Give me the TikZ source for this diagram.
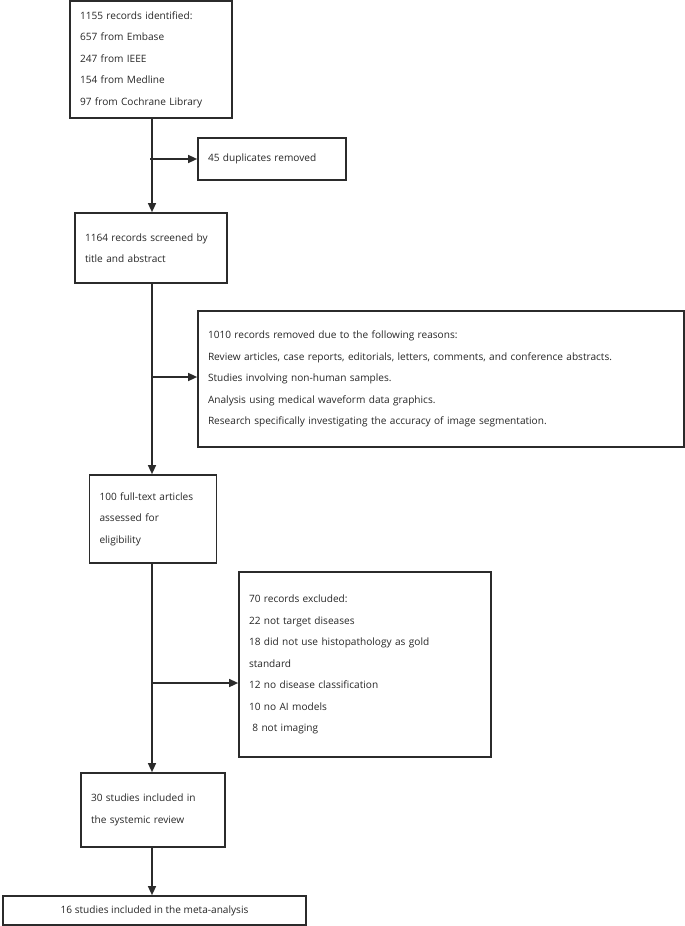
\documentclass[tikz,border=0pt]{standalone}
\usepackage{fontspec}
\setmainfont{Open Sans}
\usepackage{tikz}
\usetikzlibrary{positioning}
\usetikzlibrary{%
  calc,%
  arrows.meta%
}
\definecolor{linegray}{HTML}{2B2B2B}
\tikzset{
  flowbox/.style={draw=linegray, line width=1.7pt, align=left, inner xsep=10pt, inner ysep=0pt,
    font=\fontsize{10.1}{21.5}\selectfont, text=black!85},
}
\newcommand{\fbx}[3]{node[flowbox, minimum width=#1pt, minimum height=#2pt, text width=#3pt]}

\begin{document}
\begin{tikzpicture}[x=1pt, y=-1pt, >={Triangle[length=9pt,width=8pt]}, line width=1.4pt, color=linegray]
\useasboundingbox (0,0) rectangle (685,926);

\path (151,59.5) \fbx{162}{117}{142} (ident) {1155 records identified:\\657 from Embase\\247 from IEEE\\154 from Medline\\97 from Cochrane Library};
\path (272,159) \fbx{148}{42}{128} (dupl) {45 duplicates removed};
\path (151,248) \fbx{152}{70}{132} (screen) {1164 records screened by\\title and abstract};
\path (441,379) \fbx{486}{136}{466} (remov) {1010 records removed due to the following reasons:\\Review articles, case reports, editorials, letters, comments, and conference abstracts.\\Studies involving non-human samples.\\Analysis using medical waveform data graphics.\\Research specifically investigating the accuracy of image segmentation.};
\path (153,519) \fbx{127}{88}{107} (fulltext) {100 full-text articles\\assessed for\\eligibility};
\path (365,664.5) \fbx{252}{185}{232} (excl) {70 records excluded:\\22 not target diseases\\18 did not use histopathology as gold\\standard\\12 no disease classification\\10 no AI models\\\ 8 not imaging};
\path (153,810) \fbx{144}{74}{124} (incl) {30 studies included in\\the systemic review};
\path (154.5,910.5) node[flowbox, minimum width=303pt, minimum height=29pt, align=center] (meta) {16 studies included in the meta-analysis};

% branch points on the trunk
\coordinate (j1) at (150,159);
\coordinate (j2) at (152,377);
\coordinate (j3) at (153,683);

\draw
	(ident.south -| j2) edge[->] (screen.north -| j2)
	(screen.south -| j2) edge[->] (fulltext.north -| j2)
	(fulltext.south -| j2) edge[->] (incl.north -| j2)
	(incl.south -| j2) edge[->] (meta.north -| j2)
	(j1) edge[->] (dupl.west)
	(j2) edge[->] (j2 -| remov.west)
	(j3) edge[->] (j3 -| excl.west)
;
\end{tikzpicture}
\end{document}
